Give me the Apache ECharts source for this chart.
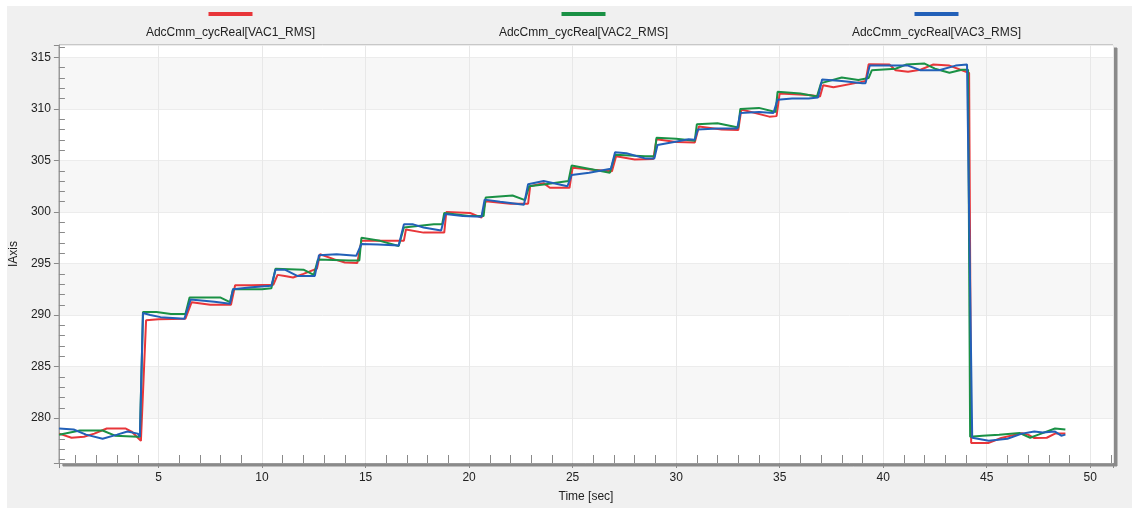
<!DOCTYPE html>
<html>
<head>
<meta charset="utf-8">
<script src="https://cdn.jsdelivr.net/npm/echarts@6/dist/echarts.min.js"></script>
<style>
  html, body { margin: 0; padding: 0; background: #ffffff; }
  #chart { width: 1132px; height: 508px; }
</style>
</head>
<body>
<div id="chart"></div>
<script>
// Signal names shown in the legend
const seriesNames = [
  'AdcCmm_cycReal[VAC1_RMS]',
  'AdcCmm_cycReal[VAC2_RMS]',
  'AdcCmm_cycReal[VAC3_RMS]'
];

// Axis titles and ranges
const timeTitle = 'Time [sec]';
const valueTitle = 'IAxis';
const timeRange = [0.19, 51.1];
const valueRange = [275.65, 316.2];

// RMS samples: [time in s, value]
const vac1Rms = [
  [0.2, 278.5], [0.8, 278.1], [1.4, 278.2], [1.9, 278.5], [2.5, 279.0], [3.4, 279.0], [3.7, 278.7], [4.05, 278.0], [4.15, 277.8],
  [4.4, 289.5], [5.0, 289.6], [6.3, 289.65],
  [6.6, 291.25], [7.5, 291.0], [8.5, 291.0],
  [8.7, 292.9], [9.5, 292.9], [10.55, 292.95],
  [10.75, 293.9], [11.1, 293.8], [11.5, 293.65], [12.0, 294.0], [12.65, 294.5],
  [12.8, 295.9], [13.5, 295.4], [14.0, 295.1], [14.6, 295.05],
  [14.8, 297.2], [16.0, 297.2], [16.85, 297.2],
  [16.95, 298.3], [17.8, 298.0], [18.8, 298.0],
  [18.9, 300.0], [20.05, 299.9], [20.6, 299.45],
  [20.8, 301.05], [22.0, 300.8], [22.85, 300.8],
  [22.95, 302.5], [23.6, 302.8], [23.9, 302.35], [24.85, 302.35],
  [25.0, 304.3], [26.0, 304.1], [26.9, 303.95],
  [27.1, 305.4], [28.0, 305.1], [28.9, 305.15],
  [29.05, 307.05], [30.0, 306.8], [30.9, 306.75],
  [31.1, 308.3], [32.2, 308.0], [33.0, 307.95],
  [33.15, 309.95], [34.5, 309.25], [34.85, 309.3],
  [35.0, 311.5], [36.4, 311.35], [36.95, 311.2],
  [37.1, 312.3], [37.6, 312.1], [38.9, 312.6], [39.15, 312.7],
  [39.3, 314.33], [40.3, 314.3], [40.6, 313.75], [41.2, 313.6], [41.8, 313.8], [42.4, 314.3], [43.2, 314.2], [44.0, 313.6], [44.15, 313.5],
  [44.25, 277.6], [45.1, 277.6], [45.7, 278.07], [46.7, 278.55], [47.0, 278.4], [47.3, 278.07], [47.9, 278.1], [48.3, 278.5], [48.8, 278.5]
];

const vac2Rms = [
  [0.2, 278.4], [1.2, 278.8], [2.3, 278.8], [2.9, 278.3], [4.0, 278.2], [4.1, 278.2],
  [4.25, 290.3], [4.9, 290.3], [5.6, 290.1], [6.3, 290.1],
  [6.5, 291.7], [8.0, 291.7], [8.45, 291.25],
  [8.6, 292.5], [10.0, 292.5], [10.45, 292.6],
  [10.65, 294.5], [12.0, 294.4], [12.5, 293.9],
  [12.7, 295.4], [14.2, 295.3], [14.7, 295.3],
  [14.8, 297.5], [15.7, 297.2], [16.6, 296.7],
  [16.85, 298.5], [18.3, 298.8], [18.7, 298.8],
  [18.8, 299.9], [20.0, 299.6], [20.7, 299.6],
  [20.8, 301.4], [22.1, 301.6], [22.7, 301.15],
  [22.9, 302.5], [23.6, 302.66], [24.8, 303.0],
  [24.95, 304.5], [26.8, 303.8],
  [27.05, 305.55], [28.5, 305.4], [28.95, 305.4],
  [29.05, 307.2], [30.0, 307.1], [30.9, 306.9],
  [31.0, 308.5], [32.0, 308.6], [33.0, 308.2],
  [33.1, 310.0], [34.0, 310.1], [34.8, 309.7],
  [34.9, 311.66], [36.0, 311.5], [36.8, 311.2],
  [37.0, 312.5], [38.0, 313.05], [38.8, 312.8], [39.3, 313.0],
  [39.45, 313.75], [40.6, 313.9], [41.1, 314.3], [42.0, 314.4], [42.5, 313.9], [43.2, 313.5], [43.8, 313.8], [44.1, 313.8],
  [44.2, 278.2], [44.8, 278.3], [45.6, 278.4], [46.6, 278.55], [47.1, 278.1], [47.5, 278.4], [48.3, 279.0], [48.8, 278.9]
];

const vac3Rms = [
  [0.2, 279.0], [0.9, 278.9], [1.5, 278.4], [2.3, 278.0], [3.0, 278.4], [3.5, 278.7], [4.0, 278.5], [4.1, 278.2],
  [4.25, 290.2], [4.6, 290.0], [5.1, 289.8], [6.25, 289.65],
  [6.55, 291.5], [7.7, 291.3], [8.45, 291.1],
  [8.6, 292.5], [9.5, 292.7], [10.45, 292.85],
  [10.65, 294.4], [11.1, 294.4], [11.7, 293.8], [12.55, 293.8],
  [12.75, 295.8], [13.6, 295.9], [14.55, 295.75],
  [14.8, 296.9], [15.6, 296.85], [16.6, 296.75],
  [16.85, 298.8], [17.3, 298.8], [17.8, 298.5], [18.65, 298.2],
  [18.85, 299.8], [19.7, 299.6], [20.6, 299.55],
  [20.75, 301.2], [21.5, 301.0], [22.65, 300.7],
  [22.85, 302.7], [23.6, 303.0], [24.75, 302.5],
  [24.95, 303.6], [25.8, 303.8], [26.85, 304.2],
  [27.05, 305.8], [27.6, 305.7], [28.5, 305.2], [28.95, 305.2],
  [29.1, 306.5], [29.9, 306.8], [30.6, 307.05], [30.9, 307.0],
  [31.05, 308.0], [32.0, 308.1], [32.95, 308.1],
  [33.1, 309.6], [34.0, 309.7], [34.7, 309.6],
  [34.9, 310.9], [35.6, 311.0], [36.4, 311.0], [36.85, 311.1],
  [37.05, 312.85], [38.0, 312.7], [39.0, 312.5], [39.15, 312.5],
  [39.35, 314.2], [41.2, 314.2], [41.8, 313.75], [42.7, 313.75], [43.5, 314.2], [44.05, 314.3],
  [44.3, 278.1], [45.1, 277.8], [46.0, 278.0], [46.7, 278.5], [47.3, 278.7], [47.7, 278.6], [48.3, 278.7], [48.6, 278.3], [48.8, 278.4]
];

const seriesData = [vac1Rms, vac2Rms, vac3Rms];
const seriesColors = ['#e8363a', '#1a9145', '#2260b8'];

const FONT = '"Liberation Sans", Arial, sans-serif';
const TEXT = '#222222';

// Grid box in pixels
const grid = { left: 54, top: 45, right: 19, bottom: 43 };
const plotWidth = 1132 - grid.left - grid.right;
const legendCenters = [0, 1, 2].map(i => grid.left + plotWidth * (i + 0.5) / 3);

const chart = echarts.init(document.getElementById('chart'), null, { renderer: 'canvas' });

const option = {
  animation: false,
  backgroundColor: 'transparent',
  textStyle: { fontFamily: FONT },
  graphic: [
    {
      type: 'rect', z: -100, silent: true,
      shape: { x: 7, y: 6, width: 1125, height: 502 },
      style: { fill: '#f0f0f0' }
    },
    ...seriesNames.map((name, i) => ({
      type: 'text', silent: true,
      x: legendCenters[i], y: 33,
      style: {
        text: name, align: 'center', verticalAlign: 'middle',
        font: '12px ' + FONT, fill: TEXT
      }
    }))
  ],
  legend: seriesNames.map((name, i) => ({
    data: [name],
    left: legendCenters[i] - 22,
    top: 12,
    padding: 0,
    itemWidth: 44,
    itemHeight: 4,
    icon: 'rect',
    selectedMode: false,
    formatter: () => ''
  })),
  grid: {
    left: grid.left, top: grid.top, right: grid.right, bottom: grid.bottom,
    show: true,
    backgroundColor: '#ffffff',
    borderColor: '#a0a0a0',
    borderWidth: 1,
    shadowColor: '#8a8a8a',
    shadowBlur: 0,
    shadowOffsetX: 4,
    shadowOffsetY: 3
  },
  xAxis: {
    type: 'value',
    min: timeRange[0], max: timeRange[1],
    splitNumber: 10,
    name: timeTitle,
    nameLocation: 'middle',
    nameGap: 28,
    nameTextStyle: { color: TEXT, fontSize: 12, fontFamily: FONT },
    axisLine: { show: true, lineStyle: { color: '#9a9a9a', width: 1 } },
    axisTick: { show: true, inside: false, length: 5, lineStyle: { color: '#8a8a8a' } },
    minorTick: { show: true, splitNumber: 5, length: -8, lineStyle: { color: '#8a8a8a' } },
    axisLabel: { showMinLabel: false, showMaxLabel: false, margin: 9, color: TEXT, fontSize: 12, fontFamily: FONT },
    splitLine: { show: true, lineStyle: { color: '#e8e8e8' } }
  },
  yAxis: {
    type: 'value',
    min: valueRange[0], max: valueRange[1],
    splitNumber: 8,
    name: valueTitle,
    nameLocation: 'middle',
    nameGap: 38,
    nameTextStyle: { color: TEXT, fontSize: 12, fontFamily: FONT },
    axisLine: { show: true, lineStyle: { color: '#9a9a9a', width: 1 } },
    axisTick: { show: true, inside: false, length: 5, lineStyle: { color: '#8a8a8a' } },
    minorTick: { show: true, splitNumber: 5, length: -6, lineStyle: { color: '#8a8a8a' } },
    axisLabel: { showMinLabel: false, showMaxLabel: false, margin: 8, color: TEXT, fontSize: 12, fontFamily: FONT },
    splitLine: { show: true, lineStyle: { color: '#ececec' } },
    splitArea: { show: true, areaStyle: { color: ['#ffffff', '#f7f7f7'] } }
  },
  series: seriesNames.map((name, i) => ({
    name,
    type: 'line',
    data: seriesData[i],
    showSymbol: false,
    symbol: 'none',
    color: seriesColors[i],
    lineStyle: { width: 2, color: seriesColors[i] },
    emphasis: { disabled: true }
  }))
};

chart.setOption(option);
</script>
</body>
</html>
